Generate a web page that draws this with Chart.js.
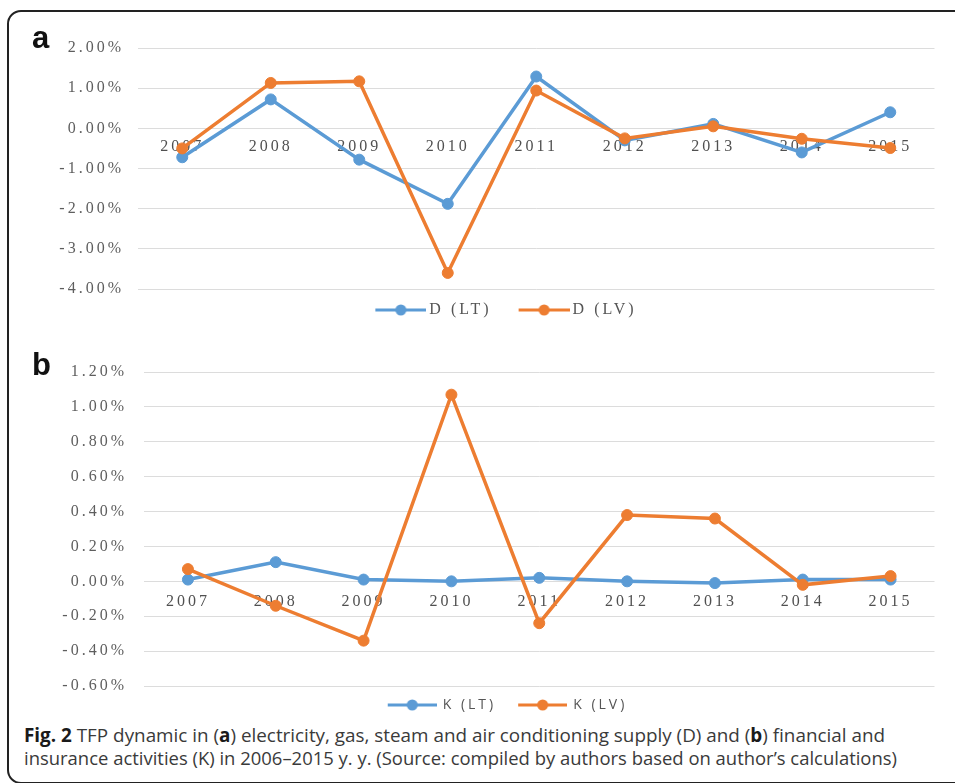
<!DOCTYPE html>
<html>
<head>
<meta charset="utf-8">
<script src="https://cdn.jsdelivr.net/npm/chart.js@4.4.1/dist/chart.umd.min.js"></script>
<style>
  html, body { margin: 0; padding: 0; background: #fff; }
  body { width: 955px; height: 783px; overflow: hidden; position: relative; }
  .frame { position: absolute; left: 7px; top: 10px; width: 1000px; height: 770px; border: 2px solid #222; border-radius: 14px; }
  .panel { position: absolute; left: 40px; width: 901px; }
  #wrapA { top: 20px; height: 308px; }
  #wrapB { top: 340px; height: 382px; }
  .tag { position: absolute; font: bold 31px "Liberation Sans", Arial, sans-serif; color: #111; line-height: 1; }
  .caption { position: absolute; left: 24px; top: 724px; font-family: "Open Sans", sans-serif; font-size: 19px; line-height: 22.6px; color: #3a3a3a; }
  .caption div { white-space: nowrap; transform-origin: 0 0; width: max-content; }
  .caption b { color: #1a1a1a; }
</style>
</head>
<body>
<div class="frame"></div>
<div class="panel" id="wrapA"><canvas id="chartA"></canvas></div>
<div class="panel" id="wrapB"><canvas id="chartB"></canvas></div>
<div class="tag" style="left:32px; top:22px;">a</div>
<div class="tag" style="left:32px; top:349px;">b</div>
<div class="caption">
  <div id="cap1"><b>Fig. 2</b> TFP dynamic in (<b>a</b>) electricity, gas, steam and air conditioning supply (D) and (<b>b</b>) financial and</div>
  <div id="cap2">insurance activities (K) in 2006–2015 y. y. (Source: compiled by authors based on author’s calculations)</div>
</div>
<script>
// TFP dynamic, panels a (D) and b (K) - values in percent

var years = ['2007', '2008', '2009', '2010', '2011', '2012', '2013', '2014', '2015'];

// a: electricity, gas, steam and air conditioning supply
var dLT = [-0.72, 0.72, -0.78, -1.88, 1.29, -0.30, 0.11, -0.60, 0.40];
var dLV = [-0.50, 1.13, 1.17, -3.60, 0.94, -0.25, 0.05, -0.26, -0.49];

// b: financial and insurance activities
var kLT = [0.01, 0.11, 0.01, 0.00, 0.02, 0.00, -0.01, 0.01, 0.01];
var kLV = [0.07, -0.14, -0.34, 1.07, -0.24, 0.38, 0.36, -0.02, 0.03];

var BLUE = '#5B9BD5';
var ORANGE = '#ED7D31';
var SERIF = "'Liberation Serif', 'Times New Roman', serif";

function pctLabel(v) {
  if (Math.abs(v) < 1e-9) v = 0;
  return v.toFixed(2) + '%';
}

// little line+dot glyph for the legend (Excel style)
function legendIcon(color, width, lineStart) {
  var c = document.createElement('canvas');
  c.width = width; c.height = 14;
  var g = c.getContext('2d');
  g.strokeStyle = color; g.lineWidth = 3;
  g.beginPath(); g.moveTo(lineStart, 7); g.lineTo(width, 7); g.stroke();
  g.fillStyle = color;
  g.beginPath(); g.arc((lineStart + width) / 2, 7, 5.5, 0, Math.PI * 2); g.fill();
  return c;
}

// the scanned figure has stretched, widely spaced text
function spacingPlugin(px) {
  return {
    id: 'letterSpacing',
    beforeLayout: function (chart) { chart.ctx.letterSpacing = px; },
    beforeDraw: function (chart) { chart.ctx.letterSpacing = px; }
  };
}

// legend is centred on the plot, not on the whole canvas
function legendShiftPlugin(px) {
  return {
    id: 'legendShift',
    afterLayout: function (chart) { if (chart.legend) chart.legend.left = px; }
  };
}

function lineSet(label, data, color, order) {
  return {
    label: label, data: data, order: order,
    borderColor: color, backgroundColor: color,
    borderWidth: 3.5, tension: 0,
    pointRadius: 5.5, pointHoverRadius: 5.5, pointBorderWidth: 1,
    pointBackgroundColor: color, pointBorderColor: color
  };
}

function renderPanel(canvasId, p) {
  var icons = [legendIcon(BLUE, p.iconW, p.lineStart), legendIcon(ORANGE, p.iconW, p.lineStart)];
  return new Chart(document.getElementById(canvasId), {
    type: 'line',
    data: {
      labels: years,
      datasets: [lineSet(p.names[0], p.lt, BLUE, 1), lineSet(p.names[1], p.lv, ORANGE, 0)]
    },
    options: {
      responsive: true, maintainAspectRatio: false, animation: false,
      layout: { padding: { left: 0, right: 0, top: p.padTop, bottom: 0 } },
      plugins: {
        tooltip: { enabled: false },
        legend: {
          display: true, position: 'bottom',
          labels: {
            usePointStyle: true, pointStyleWidth: p.boxW, padding: p.legendPad,
            color: '#555', font: p.legendFont,
            sort: function (a, b) { return a.datasetIndex - b.datasetIndex; },
            generateLabels: function (chart) {
              var items = Chart.defaults.plugins.legend.labels.generateLabels(chart);
              items.forEach(function (it) { it.pointStyle = icons[it.datasetIndex]; });
              return items;
            }
          }
        }
      },
      scales: {
        x: {
          type: 'category', offset: true, position: { y: 0 },
          grid: { display: false, drawTicks: false }, border: { display: false },
          ticks: { color: '#505050', padding: p.xPad, font: { family: SERIF, size: 16 } }
        },
        y: {
          min: p.min, max: p.max,
          grid: { color: '#dcdcdc', lineWidth: 1, drawTicks: false }, border: { display: false },
          afterFit: function (scale) { scale.width = p.axisW; },
          ticks: {
            stepSize: p.step, color: '#5e5e5e', padding: p.yPad,
            font: { family: SERIF, size: 16 },
            callback: function (v) { return pctLabel(v); }
          }
        }
      }
    },
    plugins: [spacingPlugin('3px'), legendShiftPlugin(p.legendLeft)]
  });
}

renderPanel('chartA', {
  names: ['D (LT)', 'D (LV)'], lt: dLT, lv: dLV,
  min: -4, max: 2, step: 1,
  padTop: 28, axisW: 98, yPad: 14, xPad: 9,
  legendLeft: 17, legendPad: 13, boxW: 60, iconW: 70, lineStart: 19,
  legendFont: { family: SERIF, size: 16 }
});

renderPanel('chartB', {
  names: ['K (LT)', 'K (LV)'], lt: kLT, lv: kLV,
  min: -0.6, max: 1.2, step: 0.2,
  padTop: 32, axisW: 104, yPad: 17, xPad: 11,
  legendLeft: 24, legendPad: 12, boxW: 58, iconW: 60, lineStart: 11,
  legendFont: { family: "'Open Sans', sans-serif", size: 14 }
});

// squeeze caption lines to the condensed width of the original
[['cap1', 861], ['cap2', 873]].forEach(function (c) {
  var el = document.getElementById(c[0]);
  var w = el.getBoundingClientRect().width;
  el.style.transform = 'scaleX(' + (c[1] / w) + ')';
});
</script>
</body>
</html>
